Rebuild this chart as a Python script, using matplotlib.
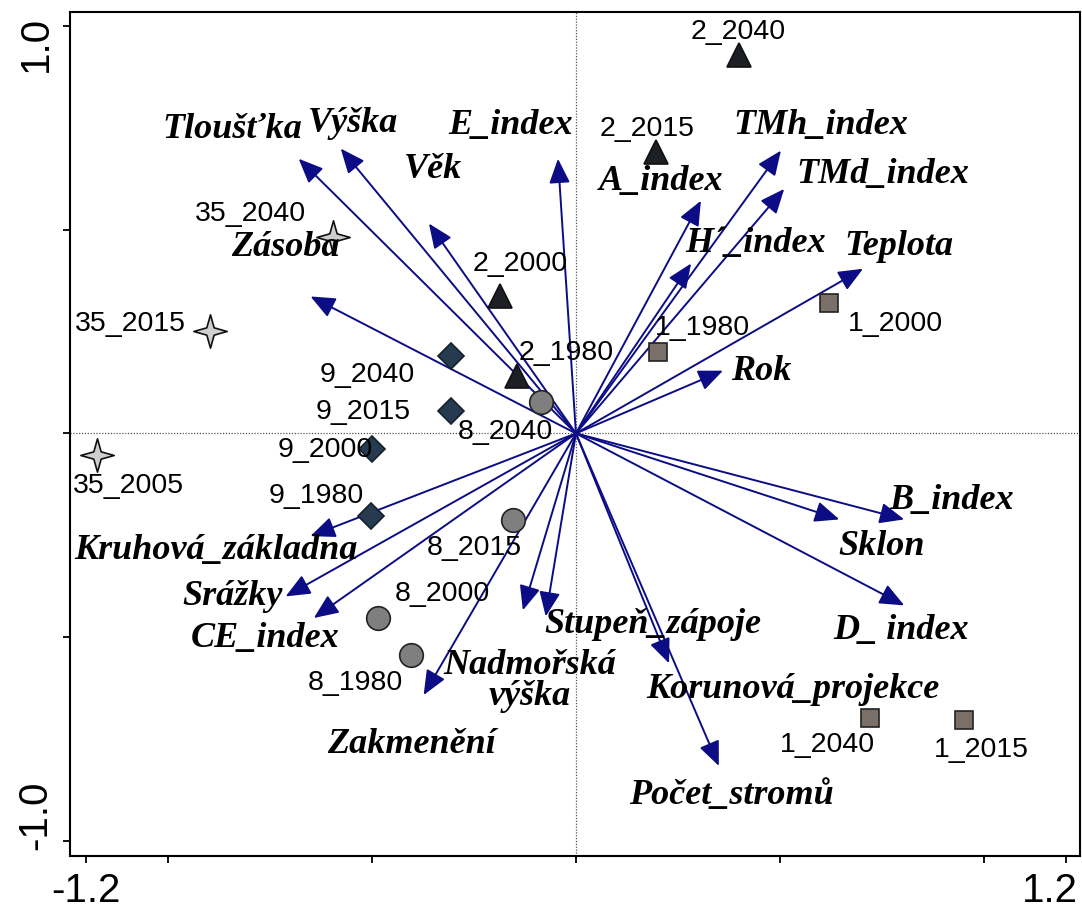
import numpy as np
import matplotlib
matplotlib.use("Agg")
import matplotlib.pyplot as plt
from matplotlib.path import Path
from matplotlib.transforms import ScaledTranslation

# Proměnné (šipky) - souřadnice hrotů
var_names = ["Tloušťka", "Výška", "Věk", "Zásoba", "E_index", "A_index",
             "TMh_index", "TMd_index", "H´_index", "Teplota", "Rok",
             "B_index", "Sklon", "D_ index", "Korunová_projekce",
             "Počet_stromů", "Stupeň_zápoje", "Nadmořská\nvýška",
             "Zakmenění", "CE_index", "Srážky", "Kruhová_základna"]
var_x = [-0.679, -0.576, -0.360, -0.650, -0.044, 0.306, 0.502, 0.510, 0.282,
         0.703, 0.360, 0.804, 0.645, 0.804, 0.228, 0.350, -0.074, -0.130,
         -0.373, -0.642, -0.711, -0.650]
var_y = [0.674, 0.699, 0.515, 0.336, 0.674, 0.571, 0.694, 0.600, 0.417,
         0.404, 0.154, -0.211, -0.211, -0.422, -0.564, -0.816, -0.449,
         -0.434, -0.642, -0.453, -0.400, -0.252]

# Plochy (body)
site_groups = ["2", "1", "8", "9", "35"]
site_names = {
    "2": ["2_2040", "2_2015", "2_2000", "2_1980"],
    "1": ["1_1980", "1_2000", "1_2040", "1_2015"],
    "8": ["8_2040", "8_2015", "8_2000", "8_1980"],
    "9": ["9_2040", "9_2015", "9_2000", "9_1980"],
    "35": ["35_2040", "35_2015", "35_2005"],
}
site_x = {
    "2": [0.400, 0.196, -0.186, -0.145],
    "1": [0.201, 0.620, 0.721, 0.951],
    "8": [-0.086, -0.154, -0.485, -0.404],
    "9": [-0.306, -0.306, -0.500, -0.502],
    "35": [-0.596, -0.897, -1.174],
}
site_y = {
    "2": [0.929, 0.691, 0.336, 0.142],
    "1": [0.201, 0.319, -0.699, -0.703],
    "8": [0.078, -0.213, -0.453, -0.544],
    "9": [0.189, 0.054, -0.039, -0.203],
    "35": [0.483, 0.252, -0.054],
}

# umístění popisků (layout)
var_lab_pos = [(-0.841, 0.748), (-0.547, 0.762), (-0.350, 0.650), (-0.711, 0.458),
               (-0.159, 0.757), (0.208, 0.620), (0.600, 0.757), (0.752, 0.637),
               (0.441, 0.468), (0.792, 0.461), (0.453, 0.154), (0.919, -0.162),
               (0.748, -0.275), (0.797, -0.480), (0.532, -0.625), (0.380, -0.885),
               (0.189, -0.466), (-0.112, -0.605), (-0.404, -0.760), (-0.760, -0.502),
               (-0.841, -0.397), (-0.882, -0.284)]
site_lab_pos = {
    "2": [(0.397, 0.988), (0.174, 0.750), (-0.137, 0.417), (-0.025, 0.199)],
    "1": [(0.311, 0.260), (0.782, 0.272), (0.615, -0.762), (0.993, -0.775)],
    "8": [(-0.172, 0.005), (-0.248, -0.279), (-0.328, -0.392), (-0.539, -0.610)],
    "9": [(-0.510, 0.145), (-0.522, 0.056), (-0.613, -0.039), (-0.635, -0.152)],
    "35": [(-0.797, 0.542), (-1.091, 0.270), (-1.096, -0.127)],
}

# čtyřcípá hvězda
r = 0.22
star = Path([(0, 1), (r, r), (1, 0), (r, -r), (0, -1), (-r, -r), (-1, 0), (-r, r), (0, 1)],
            [Path.MOVETO] + [Path.LINETO] * 7 + [Path.CLOSEPOLY])

styles = {
    "2": dict(marker="^", ms=17, mfc="#1c1f24", mec="#111111"),
    "1": dict(marker="s", ms=12.5, mfc="#7b7068", mec="#222222"),
    "8": dict(marker="o", ms=17, mfc="#7f7f7f", mec="#222222"),
    "9": dict(marker="D", ms=13, mfc="#263b50", mec="#15202c"),
    "35": dict(marker=star, ms=24, mfc="#cfcfcf", mec="#111111"),
}

fig = plt.figure(figsize=(10.82, 9.12), dpi=100)
ax = fig.add_axes([0.0647, 0.0603, 0.9333, 0.9254])
ax.set_xlim(-1.239, 1.234)
ax.set_ylim(-1.037, 1.034)

ax.axhline(0, color="#555555", lw=0.9, ls=(0, (1, 1.3)), zorder=1)
ax.axvline(0, color="#555555", lw=0.9, ls=(0, (1, 1.3)), zorder=1)

for name, x, y, (lx, ly) in zip(var_names, var_x, var_y, var_lab_pos):
    ax.annotate("", xy=(x, y), xytext=(0, 0),
                arrowprops=dict(arrowstyle="-|>,head_length=0.75,head_width=0.32",
                                color="#0c0c85", lw=1.4, mutation_scale=20,
                                shrinkA=0, shrinkB=0), zorder=2)
    ax.text(lx, ly, name, ha="center", va="center", fontsize=26,
            family="Liberation Serif", fontweight="bold", fontstyle="italic",
            linespacing=0.95, zorder=4)

for g in site_groups:
    st = styles[g]
    ax.plot(site_x[g], site_y[g], ls="none", marker=st["marker"], ms=st["ms"],
            mfc=st["mfc"], mec=st["mec"], mew=1.2, zorder=3)
    for name, (lx, ly) in zip(site_names[g], site_lab_pos[g]):
        ax.text(lx, ly, name, ha="center", va="center", fontsize=20.5,
                family="Liberation Sans", zorder=4)

ax.set_xticks([-1.2, -1.0, -0.5, 0, 0.5, 1.0, 1.2])
ax.set_xticklabels(["-1.2", "", "", "", "", "", "1.2"])
ax.set_yticks([-1.0, -0.5, 0, 0.5, 1.0])
ax.set_yticklabels(["-1.0", "", "", "", "1.0"], rotation=90, va="center")
ax.tick_params(direction="out", length=5, width=1.3, labelsize=29)
ax.tick_params(axis="x", pad=6)
ax.tick_params(axis="y", pad=6)
for lab in ax.get_xticklabels() + ax.get_yticklabels():
    lab.set_family("Liberation Sans")

# posun krajních popisků dovnitř, jako v originále
xl = ax.get_xticklabels()
xl[-1].set_transform(xl[-1].get_transform() + ScaledTranslation(-0.16, 0, fig.dpi_scale_trans))
yl = ax.get_yticklabels()
yl[-1].set_transform(yl[-1].get_transform() + ScaledTranslation(0, -0.17, fig.dpi_scale_trans))
yl[0].set_transform(yl[0].get_transform() + ScaledTranslation(0, 0.27, fig.dpi_scale_trans))

for sp in ax.spines.values():
    sp.set_linewidth(1.5)

fig.savefig("out.png", dpi=100)
